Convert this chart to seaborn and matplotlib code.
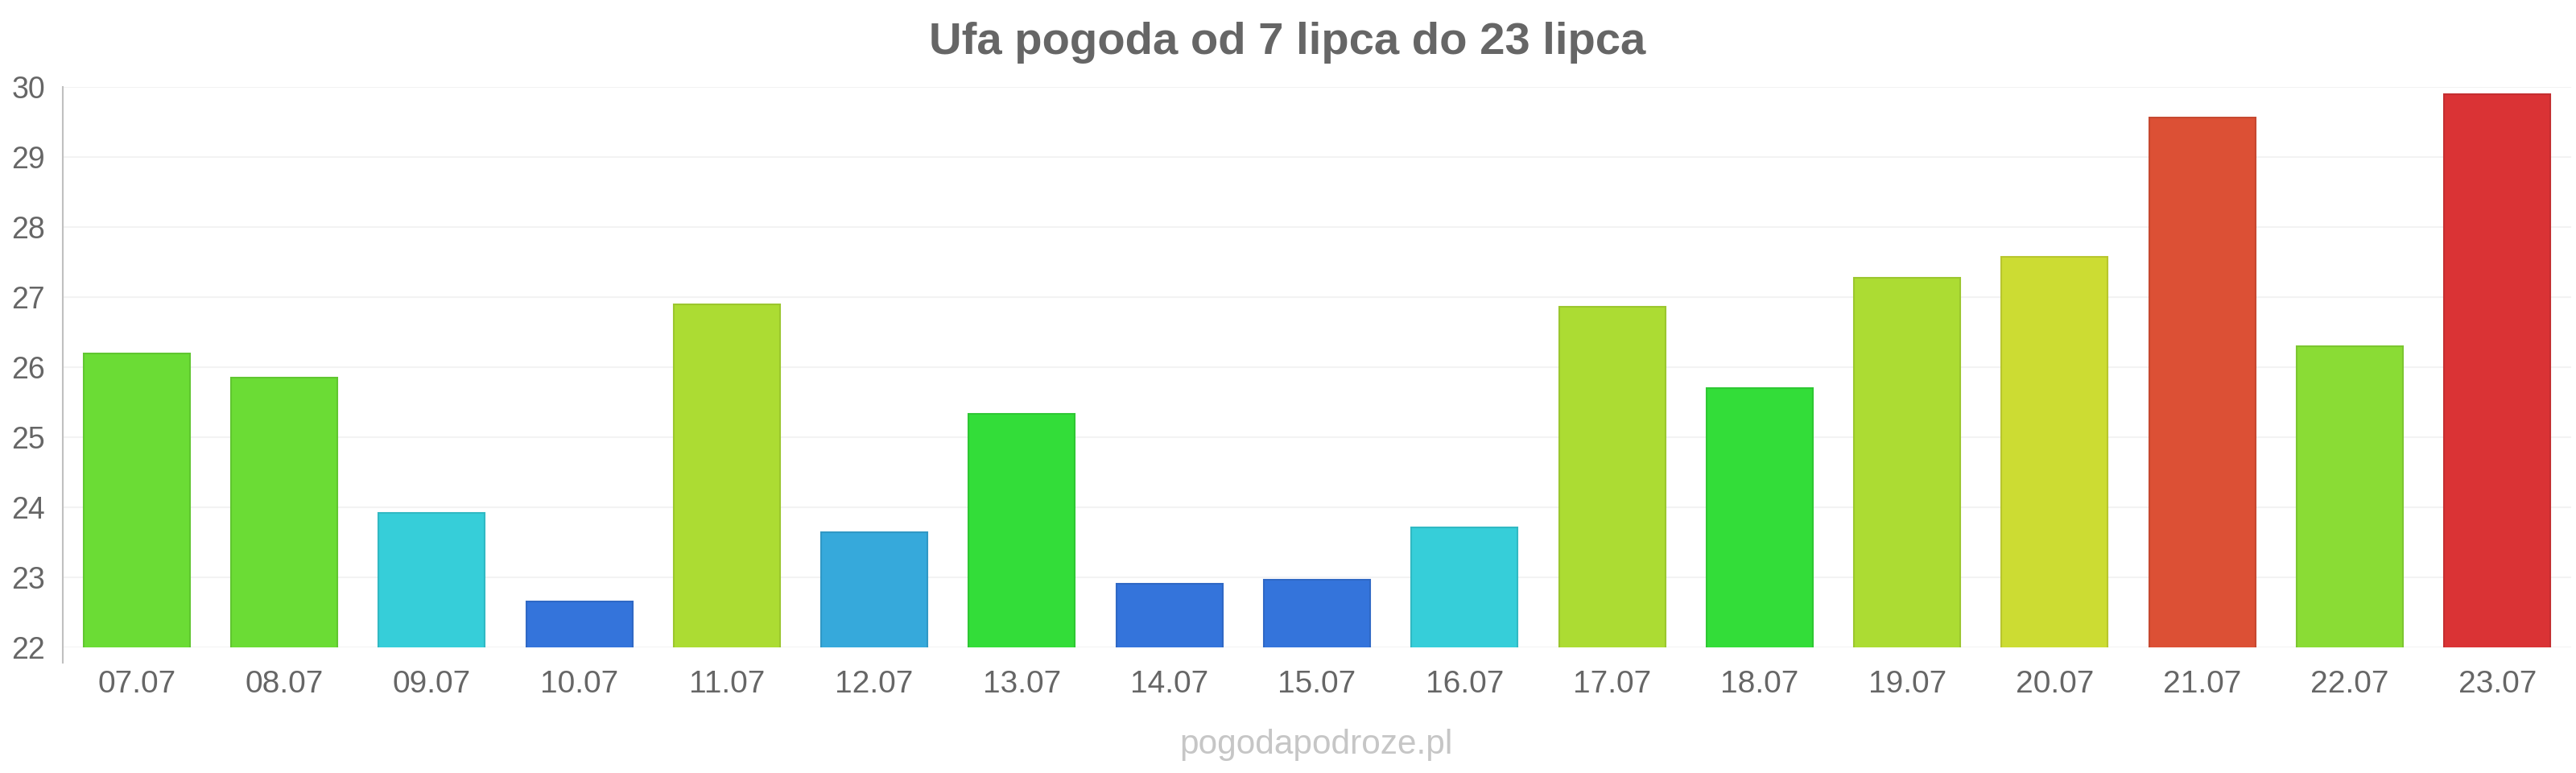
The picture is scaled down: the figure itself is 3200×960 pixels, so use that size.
import numpy as np
import pandas as pd
import matplotlib
matplotlib.use("Agg")
import matplotlib.pyplot as plt
import matplotlib.colors as mcolors
import seaborn as sns

# daily temperatures
dates = ["07.07", "08.07", "09.07", "10.07", "11.07", "12.07", "13.07", "14.07", "15.07",
         "16.07", "17.07", "18.07", "19.07", "20.07", "21.07", "22.07", "23.07"]
temps = [26.2, 25.85, 23.92, 22.66, 26.9, 23.64, 25.33, 22.91, 22.97,
         23.71, 26.86, 25.7, 27.28, 27.58, 29.56, 26.3, 29.9]
bar_colors = ["#6bdc35", "#6bdc35", "#36ced9", "#3474db", "#acdc33", "#36a9db", "#33dd39",
              "#3474db", "#3474db", "#36ced9", "#acdc33", "#33dd39", "#acdc33", "#ccdc33",
              "#dc5035", "#8adc35", "#da3335"]
yticks = [22, 23, 24, 25, 26, 27, 28, 29, 30]

df = pd.DataFrame({"date": dates, "temp": temps})

sns.set_style("white")
plt.rcParams["font.family"] = ["Liberation Sans", "DejaVu Sans"]

fig = plt.figure(figsize=(32, 9.6), dpi=100)
ax = fig.add_axes([0.0244, 0.1625, 0.9737, 0.725])

sns.barplot(data=df, x="date", y="temp", hue="date", palette=bar_colors,
            saturation=1, width=0.72, legend=False, ax=ax, zorder=3)

# darker outline for every bar
for patch, c in zip(ax.patches, bar_colors):
    rgb = np.array(mcolors.to_rgb(c)) * 0.9
    patch.set_edgecolor(rgb)
    patch.set_linewidth(1.5)

ax.set_ylim(22, 30)
ax.set_xlim(-0.5, len(dates) - 0.5)
ax.set_yticks(yticks)
ax.set_xlabel("")
ax.set_ylabel("")

ax.grid(axis="y", color="#f3f3f3", linewidth=1.5, zorder=0)
ax.grid(axis="x", visible=False)
for s in ["top", "right", "bottom"]:
    ax.spines[s].set_visible(False)
ax.spines["left"].set_color("#c0c0c0")
ax.spines["left"].set_linewidth(1.5)
ax.spines["left"].set_bounds(21.78, 30)

ax.tick_params(axis="y", length=14, width=1.5, color="#f0f0f0", pad=2,
               labelsize=27, labelcolor="#666666")
ax.tick_params(axis="x", length=0, pad=20, labelsize=28, labelcolor="#666666")

fig.text(0.4997, 0.945, "Ufa pogoda od 7 lipca do 23 lipca", ha="center", va="center",
         fontsize=40.5, fontweight="bold", color="#666666")
fig.text(0.511, 0.036, "pogodapodroze.pl", ha="center", va="center",
         fontsize=30.5, color="#c6c6c6")

fig.savefig("out.png", dpi=100, facecolor="white")
